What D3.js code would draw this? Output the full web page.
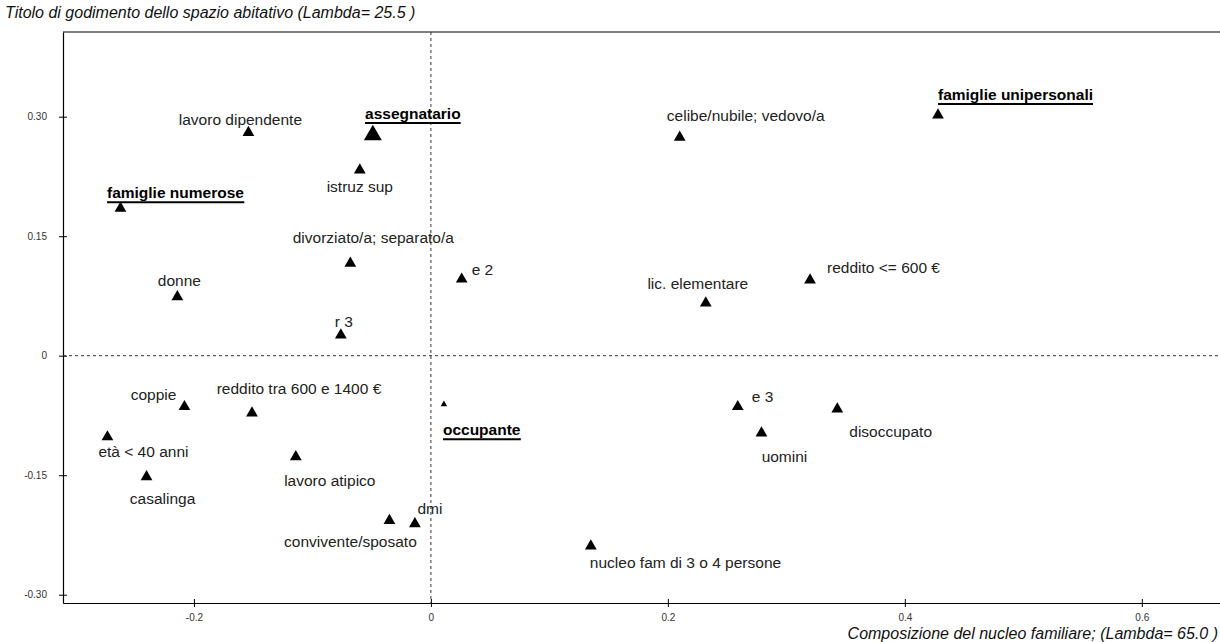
<!DOCTYPE html>
<html><head><meta charset="utf-8">
<script src="https://cdn.jsdelivr.net/npm/d3@7"></script>
<style>body{margin:0;background:#fff;}svg{display:block;font-family:"Liberation Sans",Arial,sans-serif;}</style>
</head><body><svg id="c" width="1220" height="642"></svg>
<script>
// ---- data ----
const labels = ["lavoro dipendente","assegnatario","istruz sup","famiglie numerose","divorziato/a; separato/a","donne","r 3","e 2","lic. elementare","reddito <= 600 €","celibe/nubile; vedovo/a","famiglie unipersonali","coppie","reddito tra 600 e 1400 €","età < 40 anni","casalinga","lavoro atipico","occupante","dmi","convivente/sposato","nucleo fam di 3 o 4 persone","e 3","uomini","disoccupato"];
const xVals = [-0.154,-0.049,-0.060,-0.262,-0.068,-0.214,-0.076,0.026,0.232,0.320,0.210,0.428,-0.208,-0.151,-0.273,-0.240,-0.114,0.011,-0.0135,-0.035,0.135,0.259,0.279,0.343];
const yVals = [0.280,0.277,0.233,0.185,0.116,0.074,0.026,0.096,0.066,0.095,0.274,0.302,-0.064,-0.072,-0.102,-0.152,-0.127,-0.061,-0.211,-0.207,-0.239,-0.064,-0.097,-0.067];
const xTicks = [-0.2,0,0.2,0.4,0.6];
const xTickLabels = ["-0.2","0","0.2","0.4","0.6"];
const yTicks = [-0.30,-0.15,0,0.15,0.30];
const yTickLabels = ["-0.30","-0.15","0","0.15","0.30"];
const titleY = "Titolo di godimento dello spazio abitativo (Lambda= 25.5 )";
const titleX = "Composizione del nucleo familiare; (Lambda= 65.0 )";

// ---- styling / label layout (pixels) ----
const markerSize = [60,140,60,60,60,60,60,60,60,60,60,60,60,60,60,60,60,18,60,60,60,60,60,60];
const emphasis = [0,1,0,1,0,0,0,0,0,0,0,1,0,0,0,0,0,1,0,0,0,0,0,0];
const anchor = ["middle","middle","middle","middle","middle","middle","middle","start","middle","start","middle","start","end","middle","middle","middle","middle","start","middle","middle","start","start","middle","start"];
const ldx = [-8,40,0,55,23,2,3,10,-8,17,66,0,-8,47,36,16,34,-1,15,-39,-1,14,23,12];
const ldy = [-8,-16,22,-10,-20,-11,-8,-4,-14,-7,-16,-15,-7,-19,20,27,29,31,-10,26,22,-5,29,28];

const svg = d3.select("#c");
const L=63, R=1220, T=32, B=603;
const x = d3.scaleLinear().domain([-0.3105,0.666]).range([L,R]);
const y = d3.scaleLinear().domain([-0.3104,0.4063]).range([B,T]);

// frame
svg.append("line").attr("x1",L).attr("x2",R).attr("y1",T).attr("y2",T).attr("stroke","#000").attr("stroke-width",1.2);
// axes
const xAxis = d3.axisBottom(x).tickValues(xTicks).tickFormat((d,i)=>xTickLabels[i]).tickSizeInner(4).tickSizeOuter(0).tickPadding(7);
const gx = svg.append("g").attr("transform",`translate(0,${B})`).call(xAxis);
gx.select(".domain").attr("stroke","#000").attr("stroke-width",1.2);
gx.selectAll(".tick line").attr("y1",-4).attr("y2",4).attr("stroke","#000");
gx.selectAll(".tick text").attr("font-size",10).attr("fill","#333").attr("font-family","Liberation Sans, Arial, sans-serif");

const yAxis = d3.axisLeft(y).tickValues(yTicks).tickFormat((d,i)=>yTickLabels[i]).tickSizeInner(4).tickSizeOuter(0).tickPadding(12);
const gy = svg.append("g").attr("transform",`translate(${L},0)`).call(yAxis);
gy.select(".domain").attr("stroke","#000").attr("stroke-width",1.2);
gy.selectAll(".tick line").attr("x1",-4).attr("x2",4).attr("stroke","#000");
gy.selectAll(".tick text").attr("font-size",10).attr("fill","#333").attr("font-family","Liberation Sans, Arial, sans-serif");

// zero lines
svg.append("line").attr("x1",x(0)).attr("x2",x(0)).attr("y1",T).attr("y2",B)
  .attr("stroke","#333").attr("stroke-dasharray","3,3");
svg.append("line").attr("x1",L).attr("x2",R).attr("y1",y(0)).attr("y2",y(0))
  .attr("stroke","#333").attr("stroke-dasharray","3,3");

// titles
svg.append("text").attr("x",5).attr("y",18).attr("font-size",16).attr("font-style","italic").attr("fill","#111").text(titleY);
svg.append("text").attr("x",1218).attr("y",639).attr("text-anchor","end").attr("font-size",16).attr("font-style","italic").attr("fill","#111").text(titleX);

// points
const idx = d3.range(labels.length);
svg.append("g").selectAll("path").data(idx).join("path")
  .attr("d",i=>d3.symbol(d3.symbolTriangle, markerSize[i])())
  .attr("transform",i=>`translate(${x(xVals[i])},${y(yVals[i])})`)
  .attr("fill","#000");

// labels
const lg = svg.append("g");
idx.forEach(i=>{
  const t = lg.append("text")
    .attr("x",x(xVals[i])+ldx[i]).attr("y",y(yVals[i])+ldy[i])
    .attr("text-anchor",anchor[i])
    .attr("font-size",15.5)
    .attr("font-weight",emphasis[i]?"bold":"normal")
    .attr("fill",emphasis[i]?"#000":"#222")
    .text(labels[i]);
  if(emphasis[i]){
    const bb = t.node().getBBox();
    lg.append("line").attr("x1",bb.x).attr("x2",bb.x+bb.width)
      .attr("y1",y(yVals[i])+ldy[i]+4).attr("y2",y(yVals[i])+ldy[i]+4)
      .attr("stroke","#000").attr("stroke-width",2);
  }
});
</script></body></html>
